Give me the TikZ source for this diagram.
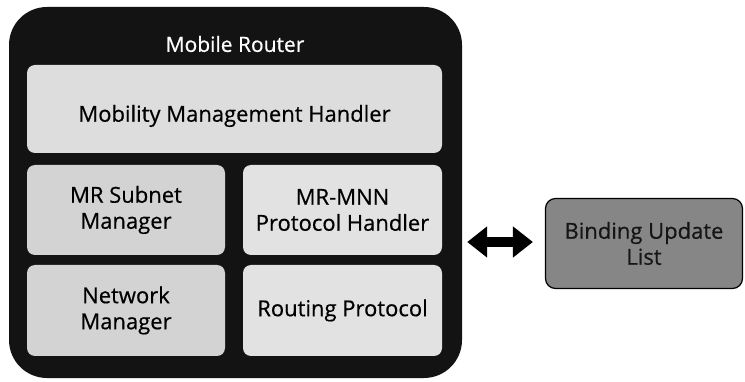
\documentclass[tikz,border=0pt]{standalone}
\usepackage{fontspec}
\setmainfont{Open Sans}[FakeBold=0.5]
\usetikzlibrary{arrows.meta}
\definecolor{framecol}{HTML}{131313}
\definecolor{paneA}{HTML}{D3D3D3}
\definecolor{paneB}{HTML}{E2E2E2}
\definecolor{paneTop}{HTML}{DDDDDD}
\definecolor{listcol}{HTML}{868686}
\definecolor{listtext}{HTML}{151515}

\begin{document}
\begin{tikzpicture}[x=1pt,y=-1pt,
  pane/.style={rounded corners=8pt, inner sep=0pt, align=center,
    font=\fontsize{22}{26}\selectfont, text=black},
  txt/.style={inner sep=0pt, align=center, font=\fontsize{22}{26}\selectfont},
  bigarrow/.style={line width=10pt,
    {Triangle[length=20pt,width=30pt]}-{Triangle[length=20pt,width=30pt]}}
]
\useasboundingbox (0,0) rectangle (745,382);

% outer router frame
\node[fill=framecol, rounded corners=38pt, inner sep=0pt,
      minimum width=453pt, minimum height=371pt] (router) at (235.5,192.5) {};
\node[txt, text=white, font=\fontsize{21}{26}\selectfont] (title) at (235,44) {Mobile Router};

% functional blocks
\node[pane, fill=paneTop, minimum width=415pt, minimum height=88pt] (mmh) at (234.5,109) {};
\node[txt] (mmhtext) at ([yshift=-7pt]mmh.center) {Mobility Management Handler};

\node[pane, fill=paneA, minimum width=198pt, minimum height=90pt] (subnet) at (126,210) {MR Subnet\\Manager};
\node[pane, fill=paneB, minimum width=199pt, minimum height=90pt] (mnn) at (342.5,210) {MR-MNN\\Protocol Handler};
\node[pane, fill=paneA, minimum width=198pt, minimum height=91pt] (netmgr) at (126,310.5) {Network\\Manager};
\node[pane, fill=paneB, minimum width=199pt, minimum height=91pt] (routing) at (342.5,310.5) {Routing Protocol};

% external binding update list
\node[pane, draw=black, line width=1.2pt, fill=listcol, rounded corners=10pt, text=listtext,
      minimum width=197pt, minimum height=90pt] (bul) at (644,243.5) {Binding Update\\List};

% exchange between router and list
\draw[bigarrow] ([xshift=5pt,yshift=1.5pt]bul.west -| router.east) -- ([xshift=-12pt,yshift=1.5pt]bul.west);
\end{tikzpicture}
\end{document}
